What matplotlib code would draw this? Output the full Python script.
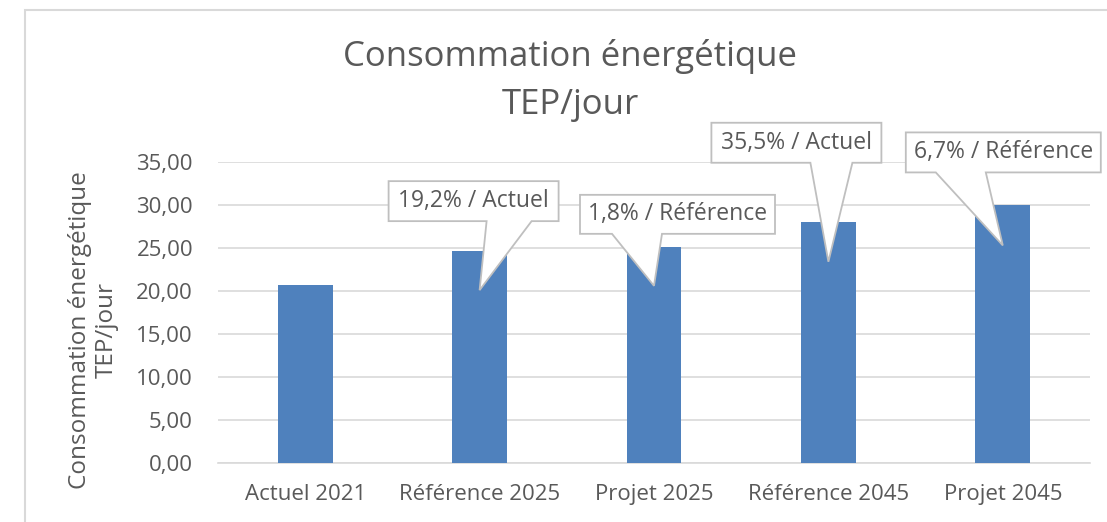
import matplotlib
matplotlib.use("Agg")
import matplotlib.pyplot as plt
from matplotlib.patches import Polygon, Rectangle

# data
categories = ["Actuel 2021", "Référence 2025", "Projet 2025", "Référence 2045", "Projet 2045"]
values = [20.72, 24.70, 25.14, 28.08, 29.96]
callout_labels = ["", "19,2% / Actuel", "1,8% / Référence", "35,5% / Actuel", "6,7% / Référence"]
yticks = [0, 5, 10, 15, 20, 25, 30, 35]

plt.rcParams['font.family'] = ['Open Sans', 'DejaVu Sans']
grey = '#595959'
W, H = 1107, 522

fig = plt.figure(figsize=(W / 100, H / 100), dpi=100)
# plot area in pixels: x 218..1090, y 162..463
ax = fig.add_axes([218 / W, (H - 463) / H, 872 / W, 301 / H])
x = list(range(len(categories)))
ax.bar(x, values, width=0.315, color='#4F81BD', zorder=3)

ax.set_xlim(-0.5, 4.5)
ax.set_ylim(0, 35)
ax.set_yticks(yticks)
ax.set_yticklabels([f"{v:.2f}".replace('.', ',') for v in yticks])
ax.set_xticks(x)
ax.set_xticklabels(categories)
ax.tick_params(length=0, labelsize=16, labelcolor=grey)
ax.tick_params(axis='y', pad=18)
ax.tick_params(axis='x', pad=15)
ax.grid(axis='y', color='#D9D9D9', linewidth=1.2, zorder=0)
for s in ['top', 'right', 'left']:
    ax.spines[s].set_visible(False)
ax.spines['bottom'].set_color('#D9D9D9')
ax.spines['bottom'].set_linewidth(1.2)

ax.set_ylabel("Consommation énergétique\nTEP/jour", fontsize=17.5, color=grey, linespacing=1.15)
ax.yaxis.label.set_va('center')
ax.yaxis.set_label_coords((93 - 218) / 872, (463 - 330) / 301)

fig.text(570 / W, 1 - 57 / H, "Consommation énergétique", ha='center', va='center', fontsize=25, color=grey)
fig.text(570 / W, 1 - 105 / H, "TEP/jour", ha='center', va='center', fontsize=25, color=grey)

# chart border
fig.patches.append(Rectangle((25 / W, -0.1), 1.2, 1 - 10 / H + 0.1, transform=fig.transFigure,
                             fill=False, edgecolor='#D9D9D9', linewidth=1.5))

# callouts: tip value, box left/right/top/bottom offsets (px from tip), wedge base offsets
px_x = 5 / 872
px_y = 35 / 301
tips = [None, 20.1, 20.6, 23.4, 25.3]
boxes = [None, (-91, 79, 109, 69, 7, 52), (-74, 121, 91, 52, -42, 8),
         (-117, 53, 139, 99, -18, 24), (-97, 98, 113, 73, -67, -17)]
for i in range(1, len(categories)):
    ty = tips[i]
    l, r, t, b, w1, w2 = boxes[i]
    pts = [(0, 0), (w1, b), (l, b), (l, t), (r, t), (r, b), (w2, b)]
    verts = [(i + px * px_x, ty + py * px_y) for px, py in pts]
    ax.add_patch(Polygon(verts, closed=True, facecolor='white', edgecolor='#BFBFBF',
                         linewidth=1.3, zorder=5, clip_on=False))
    ax.text(i + (l + r) / 2 * px_x, ty + (t + b) / 2 * px_y, callout_labels[i],
            ha='center', va='center', fontsize=16.5, color=grey, zorder=6, clip_on=False)

fig.savefig("out.png", dpi=100)
